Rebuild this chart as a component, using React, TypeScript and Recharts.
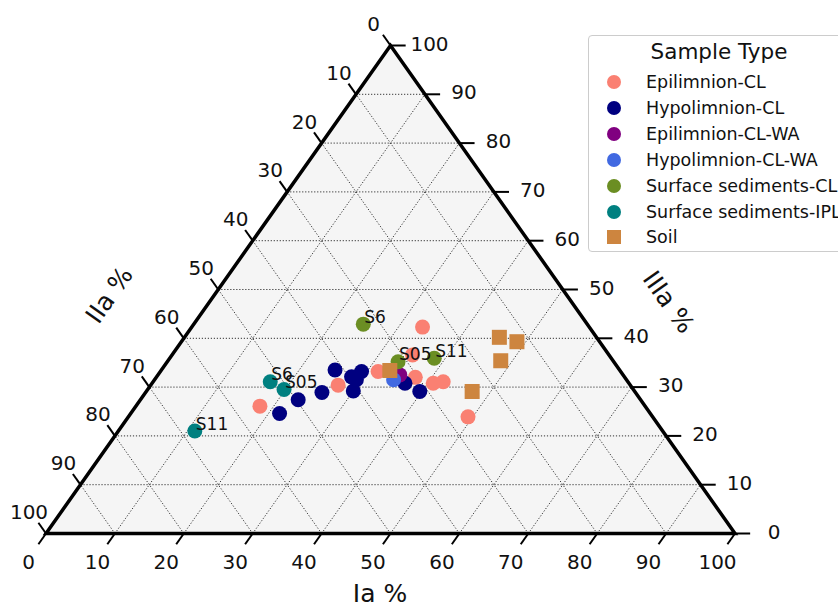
import {
    Area,
    ComposedChart,
    Line,
    ReferenceLine,
    Scatter,
    XAxis,
    YAxis,
} from 'recharts';

// every point is [Ia, IIa, IIIa] in %
type Ternary = [number, number, number];

const TICKS = [0, 10, 20, 30, 40, 50, 60, 70, 80, 90, 100];
const GRID = [10, 20, 30, 40, 50, 60, 70, 80, 90];

const EPILIMNION_CL: Ternary[] = [
    [18.0, 55.9, 26.1],
    [27.2, 42.4, 30.4],
    [31.6, 35.2, 33.2],
    [34.9, 28.5, 36.6],
    [33.5, 24.2, 42.3],
    [37.6, 30.4, 32.0],
    [40.8, 28.4, 30.8],
    [42.1, 26.8, 31.1],
    [49.3, 26.8, 23.9],
];

const HYPOLIMNION_CL: Ternary[] = [
    [21.6, 53.8, 24.6],
    [22.9, 49.7, 27.4],
    [25.6, 45.5, 28.9],
    [25.2, 41.3, 33.5],
    [28.3, 39.6, 32.1],
    [29.2, 37.6, 33.2],
    [29.3, 39.2, 31.5],
    [30.0, 40.8, 29.2],
    [36.7, 32.5, 30.8],
    [39.7, 31.2, 29.1],
];

const EPILIMNION_CL_WA: Ternary[] = [[35.1, 32.4, 32.5]];
const HYPOLIMNION_CL_WA: Ternary[] = [[34.7, 33.8, 31.5]];

const SURFACE_CL: Ternary[] = [
    [24.6, 32.5, 42.9],
    [33.5, 31.3, 35.2],
    [38.4, 25.7, 35.9],
];
const SURFACE_CL_NAMES = ['S6', 'S05', 'S11'];

const SURFACE_IPL: Ternary[] = [
    [11.1, 67.9, 21.0],
    [17.0, 51.9, 31.1],
    [19.8, 50.7, 29.5],
];
const SURFACE_IPL_NAMES = ['S11', 'S6', 'S05'];

const SOIL: Ternary[] = [
    [33.2, 33.4, 33.4],
    [45.7, 14.1, 40.2],
    [48.7, 12.0, 39.3],
    [48.3, 16.3, 35.4],
    [47.3, 23.6, 29.1],
];

const SERIES = [
    { name: 'Epilimnion-CL', color: '#FA8072', square: false, points: EPILIMNION_CL },
    { name: 'Hypolimnion-CL', color: '#000080', square: false, points: HYPOLIMNION_CL },
    { name: 'Epilimnion-CL-WA', color: '#800080', square: false, points: EPILIMNION_CL_WA },
    { name: 'Hypolimnion-CL-WA', color: '#4169E1', square: false, points: HYPOLIMNION_CL_WA },
    { name: 'Surface sediments-CL', color: '#6B8E23', square: false, points: SURFACE_CL },
    { name: 'Surface sediments-IPL', color: '#008080', square: false, points: SURFACE_IPL },
    { name: 'Soil', color: '#CD853F', square: true, points: SOIL },
];

const FONT = '"DejaVu Sans", sans-serif';
const TICK_LEN = 2.2;

// ternary -> cartesian (x across the bottom, y = height)
const toXY = (ia: number, iiia: number) => ({ x: ia + iiia / 2, y: iiia });
const toPoint = ([ia, , iiia]: Ternary) => toXY(ia, iiia);

const TRIANGLE = [toXY(0, 0), toXY(0, 100), toXY(100, 0)];
const BORDER = [toXY(50, 0), toXY(100, 0), toXY(0, 100), toXY(0, 0), toXY(50, 0)];

const gridLines = GRID.flatMap((k) => [
    [toXY(0, k), toXY(100 - k, k)],
    [toXY(k, 0), toXY(k, 100 - k)],
    [toXY(100 - k, 0), toXY(0, 100 - k)],
]);

const bottomEdge = TICKS.map((k) => ({ ...toXY(k, 0), text: String(k) }));
const leftEdge = TICKS.map((k) => ({ ...toXY(0, 100 - k), text: String(k) }));
const rightEdge = TICKS.map((k) => ({ ...toXY(100 - k, k), text: String(k) }));

const tickMarks = [
    ...bottomEdge.map((p) => [p, { x: p.x - TICK_LEN / 2, y: p.y - TICK_LEN }]),
    ...leftEdge.map((p) => [p, { x: p.x - TICK_LEN / 2, y: p.y + TICK_LEN }]),
    ...rightEdge.map((p) => [p, { x: p.x + TICK_LEN, y: p.y }]),
];

const pointNames = [
    ...SURFACE_CL.map((p, i) => ({ ...toPoint(p), text: SURFACE_CL_NAMES[i] })),
    ...SURFACE_IPL.map((p, i) => ({ ...toPoint(p), text: SURFACE_IPL_NAMES[i] })),
];

function labelShape(dx: number, dy: number, size = 20, rotate = 0, anchor = 'middle') {
    return (props: any) => {
        const x = props.cx + dx;
        const y = props.cy + dy;
        return (
            <text
                x={x}
                y={y}
                textAnchor={anchor}
                dominantBaseline="central"
                fontSize={size}
                fontFamily={FONT}
                fill="#111"
                transform={rotate ? `rotate(${rotate} ${x} ${y})` : undefined}
            >
                {props.payload.text}
            </text>
        );
    };
}

function Legend() {
    return (
        <div
            style={{
                position: 'absolute',
                left: 588,
                top: 35,
                width: 262,
                height: 217,
                boxSizing: 'border-box',
                border: '1px solid #cccccc',
                borderRadius: 4,
                background: 'rgba(255,255,255,0.8)',
                fontFamily: FONT,
                color: '#111',
            }}
        >
            <div
                style={{
                    position: 'absolute',
                    top: 3,
                    width: '100%',
                    textAlign: 'center',
                    fontSize: 21.5,
                    lineHeight: '26px',
                }}
            >
                Sample Type
            </div>
            {SERIES.map((s, i) => (
                <div
                    key={s.name}
                    style={{
                        position: 'absolute',
                        left: 0,
                        top: 33 + i * 25.9,
                        height: 26,
                        lineHeight: '26px',
                        fontSize: 17.5,
                        whiteSpace: 'nowrap',
                    }}
                >
                    <svg
                        width={16}
                        height={16}
                        style={{ position: 'absolute', left: 17, top: 5 }}
                    >
                        {s.square ? (
                            <rect x={1} y={1} width={14} height={14} fill={s.color} />
                        ) : (
                            <circle cx={8} cy={8} r={7} fill={s.color} />
                        )}
                    </svg>
                    <span style={{ position: 'absolute', left: 57 }}>{s.name}</span>
                </div>
            ))}
        </div>
    );
}

export default function App() {
    return (
        <div
            style={{
                position: 'absolute',
                left: 0,
                top: 0,
                width: 838,
                height: 604,
                overflow: 'hidden',
                background: '#fff',
                fontFamily: FONT,
            }}
        >
            <ComposedChart
                width={838}
                height={604}
                data={TRIANGLE}
                margin={{ top: 45.5, right: 103, bottom: 70.5, left: 46 }}
            >
                <XAxis type="number" dataKey="x" domain={[0, 100]} hide />
                <YAxis type="number" dataKey="y" domain={[0, 100]} hide />
                <Area
                    type="linear"
                    dataKey="y"
                    fill="#f5f5f5"
                    fillOpacity={1}
                    stroke="none"
                    dot={false}
                    activeDot={false}
                    isAnimationActive={false}
                />
                {gridLines.map((seg, i) => (
                    <ReferenceLine
                        key={`g${i}`}
                        segment={seg}
                        ifOverflow="visible"
                        stroke="#333"
                        strokeWidth={1}
                        strokeDasharray="1.2 1.8"
                    />
                ))}
                {tickMarks.map((seg, i) => (
                    <ReferenceLine
                        key={`t${i}`}
                        segment={seg}
                        ifOverflow="visible"
                        stroke="#000"
                        strokeWidth={2}
                    />
                ))}
                <Line
                    data={BORDER}
                    type="linear"
                    dataKey="y"
                    stroke="#000"
                    strokeWidth={3.5}
                    strokeLinejoin="miter"
                    dot={false}
                    activeDot={false}
                    isAnimationActive={false}
                />
                {SERIES.map((s) => (
                    <Scatter
                        key={s.name}
                        name={s.name}
                        data={s.points.map(toPoint)}
                        isAnimationActive={false}
                        shape={(p: any) =>
                            s.square ? (
                                <rect
                                    x={p.cx - 7.5}
                                    y={p.cy - 7.5}
                                    width={15}
                                    height={15}
                                    fill={s.color}
                                />
                            ) : (
                                <circle cx={p.cx} cy={p.cy} r={7.5} fill={s.color} />
                            )
                        }
                    />
                ))}
                <Scatter
                    data={pointNames}
                    isAnimationActive={false}
                    shape={labelShape(1, -7.5, 17, 0, 'start')}
                />
                <Scatter data={bottomEdge} isAnimationActive={false} shape={labelShape(-17.5, 28)} />
                <Scatter data={leftEdge} isAnimationActive={false} shape={labelShape(-17, -21.5)} />
                <Scatter data={rightEdge} isAnimationActive={false} shape={labelShape(39, -2)} />
                <Scatter
                    data={[{ ...toXY(50, 0), text: 'Ia %' }]}
                    isAnimationActive={false}
                    shape={labelShape(-10.5, 59.5, 25)}
                />
                <Scatter
                    data={[{ ...toXY(0, 50), text: 'IIa %' }]}
                    isAnimationActive={false}
                    shape={labelShape(-109, 5.5, 25, -54.8)}
                />
                <Scatter
                    data={[{ ...toXY(50, 50), text: 'IIIa %' }]}
                    isAnimationActive={false}
                    shape={labelShape(106, 12.5, 25, 54.8)}
                />
            </ComposedChart>
            <Legend />
        </div>
    );
}
